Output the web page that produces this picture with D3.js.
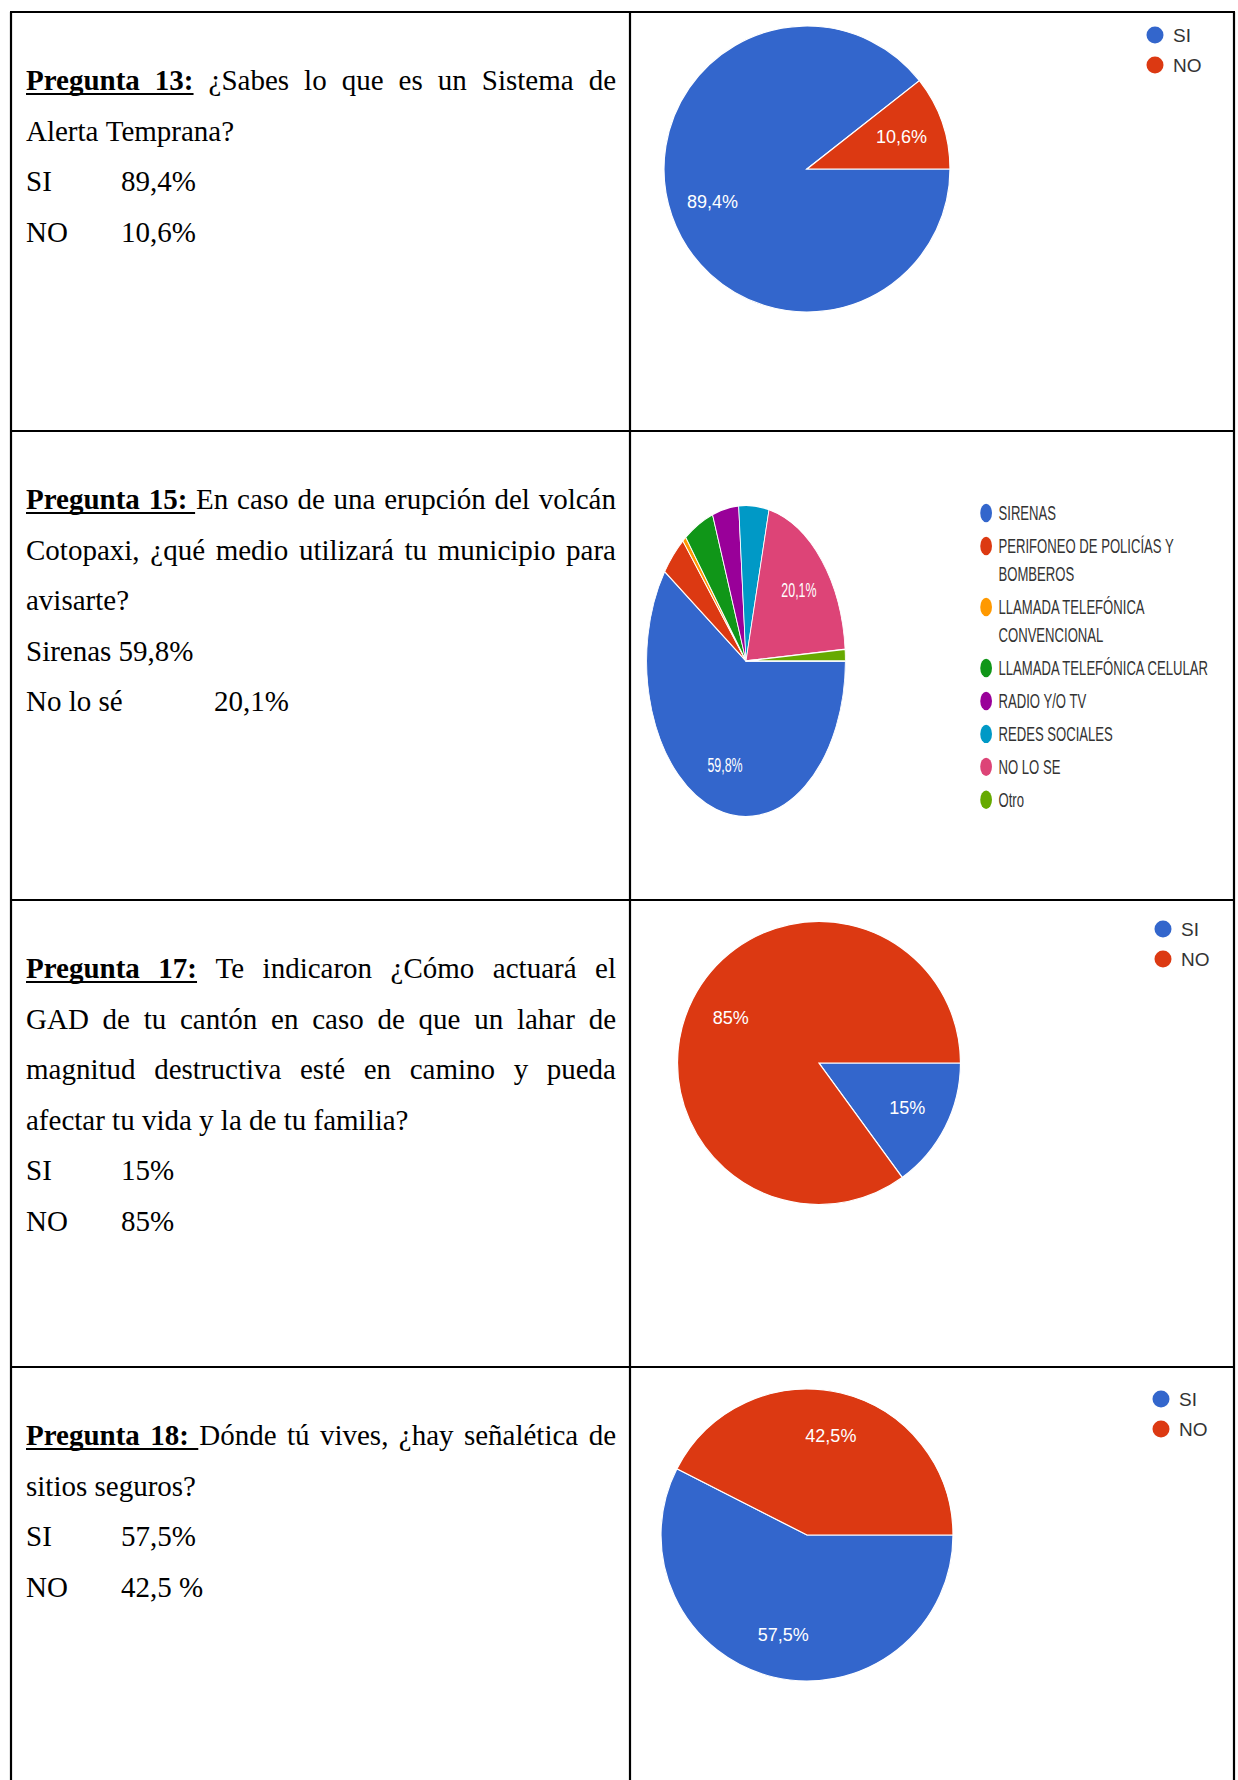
<!DOCTYPE html>
<html>
<head>
<meta charset="utf-8">
<script src="https://cdn.jsdelivr.net/npm/d3@7"></script>
<style>
  body { margin: 0; background: #fff; }
  svg { display: block; }
  .q text { font-family: "Liberation Serif", "Times New Roman", serif; font-size: 29px; fill: #000; }
  .chart text { font-family: "Liberation Sans", Arial, sans-serif; }
</style>
</head>
<body>
<svg id="page" width="1238" height="1780"></svg>
<script>
// question text, one entry per row of the table
const titles = ["Pregunta 13:", "Pregunta 15:", "Pregunta 17:", "Pregunta 18:"];
const titleSpaceUnderlined = [false, true, false, true];
const bodyLines = [
  ["¿Sabes lo que es un Sistema de", "Alerta Temprana?"],
  ["En caso de una erupción del volcán", "Cotopaxi, ¿qué medio utilizará tu municipio para", "avisarte?"],
  ["Te indicaron ¿Cómo actuará el", "GAD de tu cantón en caso de que un lahar de",
   "magnitud destructiva esté en camino y pueda", "afectar tu vida y la de tu familia?"],
  ["Dónde tú vives, ¿hay señalética de", "sitios seguros?"]
];
const justifiedCount = [1, 2, 3, 1];
const answerRows = [
  [["SI", "89,4%"], ["NO", "10,6%"]],
  [["Sirenas 59,8%"], ["No lo sé", "20,1%"]],
  [["SI", "15%"], ["NO", "85%"]],
  [["SI", "57,5%"], ["NO", "42,5 %"]]
];

// chart data
const yesNo = ["SI", "NO"];
const yesNoColors = ["#3366cc", "#dc3912"];
const q13Values = [89.4, 10.6];
const q15Labels = ["SIRENAS", "PERIFONEO DE POLICÍAS Y BOMBEROS", "LLAMADA TELEFÓNICA CONVENCIONAL",
  "LLAMADA TELEFÓNICA CELULAR", "RADIO Y/O TV", "REDES SOCIALES", "NO LO SE", "Otro"];
const q15Values = [59.8, 4.3, 0.6, 4.9, 4.3, 4.9, 20.1, 1.2];
const q15Colors = ["#3366cc", "#dc3912", "#ff9900", "#109618", "#990099", "#0099c6", "#dd4477", "#66aa00"];
const q17Values = [15, 85];
const q18Values = [57.5, 42.5];

const svg = d3.select("#page");
svg.append("rect").attr("width", 1238).attr("height", 1780).attr("fill", "#fff");

// table grid
const LEFT = 11, RIGHT = 1234, MID = 630;
const rowTops = [12, 431, 900, 1367];
const grid = svg.append("g").attr("stroke", "#000").attr("stroke-width", 2.2);
grid.append("line").attr("x1", LEFT).attr("x2", LEFT).attr("y1", rowTops[0]).attr("y2", 1780);
grid.append("line").attr("x1", MID).attr("x2", MID).attr("y1", rowTops[0]).attr("y2", 1780);
grid.append("line").attr("x1", RIGHT).attr("x2", RIGHT).attr("y1", rowTops[0]).attr("y2", 1780);
rowTops.forEach(y => grid.append("line").attr("x1", LEFT - 1).attr("x2", RIGHT + 1).attr("y1", y).attr("y2", y));

// left column text
const TEXT_X = 26, TEXT_R = 616, FIRST = 78, LH = 50.5;
const tabStops = [121, 214, 121, 121];
const SPACE = 29 * 0.25;

function placeWords(g, y, words, justify) {
  const nodes = words.map(w =>
    g.append("text").attr("y", y).attr("font-weight", w.bold ? "bold" : null).text(w.t)
  );
  const widths = nodes.map(n => n.node().getComputedTextLength());
  const total = d3.sum(widths);
  const gap = justify && words.length > 1 ? (TEXT_R - TEXT_X - total) / (words.length - 1) : SPACE;
  let x = TEXT_X;
  const xs = [];
  nodes.forEach((n, i) => { n.attr("x", x); xs.push(x); x += widths[i] + gap; });
  return { xs, widths };
}

titles.forEach((title, qi) => {
  const g = svg.append("g").attr("class", "q");
  const top = rowTops[qi] + FIRST;
  let line = 0;

  bodyLines[qi].forEach((text, li) => {
    const y = top + line * LH;
    let words = text.split(" ").map(t => ({ t, bold: false }));
    let nTitle = 0;
    if (li === 0) {
      const tw = title.split(" ").map(t => ({ t, bold: true }));
      nTitle = tw.length;
      words = tw.concat(words);
    }
    const { xs, widths } = placeWords(g, y, words, li < justifiedCount[qi]);
    if (nTitle) {
      const x2 = titleSpaceUnderlined[qi] ? xs[nTitle] - 1 : xs[nTitle - 1] + widths[nTitle - 1];
      g.append("line").attr("x1", xs[0]).attr("x2", x2)
        .attr("y1", y + 4).attr("y2", y + 4).attr("stroke", "#000").attr("stroke-width", 2);
    }
    line++;
  });

  answerRows[qi].forEach(row => {
    const y = top + line * LH;
    g.append("text").attr("x", TEXT_X).attr("y", y).text(row[0]);
    if (row[1]) g.append("text").attr("x", tabStops[qi]).attr("y", y).text(row[1]);
    line++;
  });
});

// pie charts
const fmt = v => String(v).replace(".", ",") + "%";

function pieChart(opt) {
  const { cx, cy, r, sx = 1, sy = 1, values, colors, labels } = opt;
  const g = svg.append("g").attr("class", "chart")
    .attr("transform", `translate(${cx},${cy}) scale(${sx},${sy})`);

  const pie = d3.pie().sort(null).startAngle(Math.PI / 2).endAngle(Math.PI / 2 + 2 * Math.PI);
  const arcs = pie(values);
  const arc = d3.arc().innerRadius(0).outerRadius(r);
  const labelArc = d3.arc().innerRadius(r * 0.7).outerRadius(r * 0.7);

  g.selectAll("path.slice").data(arcs).join("path")
    .attr("class", "slice")
    .attr("d", arc)
    .attr("fill", (d, i) => colors[i])
    .attr("stroke", "#fff")
    .attr("stroke-width", 1.2);

  g.selectAll("text.pct").data(arcs.filter(d => d.data >= 8)).join("text")
    .attr("class", "pct")
    .attr("transform", d => `translate(${labelArc.centroid(d)})`)
    .attr("text-anchor", "middle")
    .attr("dy", "0.35em")
    .attr("fill", "#fff")
    .attr("font-size", 18)
    .text(d => fmt(d.data));

  // legend, wraps long labels
  const lg = g.append("g").attr("transform", `translate(${opt.legendX},${opt.legendY})`);
  let y = 0;
  labels.forEach((label, i) => {
    lg.append("circle").attr("cx", 0).attr("cy", y).attr("r", 8.5).attr("fill", colors[i]);
    const words = label.split(" ");
    let current = [];
    const t = lg.append("text").attr("x", 18).attr("y", y).attr("dy", "0.35em")
      .attr("font-size", 19).attr("fill", "#333");
    const lines = [];
    words.forEach(w => {
      t.text(current.concat(w).join(" "));
      if (current.length && t.node().getComputedTextLength() > 340) {
        lines.push(current.join(" "));
        current = [w];
      } else current.push(w);
    });
    lines.push(current.join(" "));
    t.text(null);
    lines.forEach((l, k) => {
      t.append("tspan").attr("x", 18).attr("y", y + k * opt.wrapStep).attr("dy", "0.35em").text(l);
    });
    y += (lines.length - 1) * opt.wrapStep + opt.legendStep;
  });
}

pieChart({ cx: 807, cy: 169, r: 143, values: q13Values, colors: yesNoColors, labels: yesNo,
  legendX: 348, legendY: -134, legendStep: 30, wrapStep: 26 });
pieChart({ cx: 746, cy: 661, r: 144, sx: 0.69, sy: 1.08, values: q15Values, colors: q15Colors,
  labels: q15Labels, legendX: 348, legendY: -137, legendStep: 30.5, wrapStep: 26 });
pieChart({ cx: 819, cy: 1063, r: 141.5, values: q17Values, colors: yesNoColors, labels: yesNo,
  legendX: 344, legendY: -134, legendStep: 30, wrapStep: 26 });
pieChart({ cx: 807, cy: 1535, r: 146, values: q18Values, colors: yesNoColors, labels: yesNo,
  legendX: 354, legendY: -136, legendStep: 30, wrapStep: 26 });
</script>
</body>
</html>
